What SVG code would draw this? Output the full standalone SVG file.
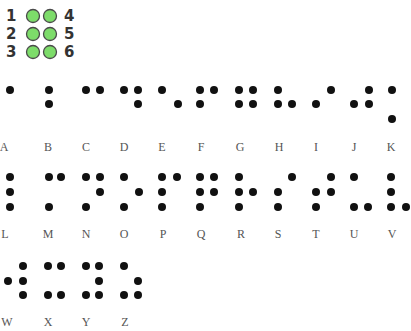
<svg xmlns="http://www.w3.org/2000/svg" width="411" height="331" viewBox="0 0 411 331">
<style>
.d{fill:#111}
.c{fill:#7ddc6a;stroke:#4a4a4a;stroke-width:1.3}
.n{font-family:"DejaVu Sans","Liberation Sans",sans-serif;font-weight:bold;font-size:15px;fill:#333}
.l{font-family:"Liberation Serif",serif;font-size:12px;fill:#555;text-anchor:middle}
</style>
<rect width="411" height="331" fill="#fff"/>
<g id="legend">
<text class="n" x="6" y="21">1</text>
<text class="n" x="6" y="39">2</text>
<text class="n" x="6" y="57">3</text>
<text class="n" x="64" y="21">4</text>
<text class="n" x="64" y="39">5</text>
<text class="n" x="64" y="57">6</text>
<circle class="c" cx="33" cy="16" r="6.5"/><circle class="c" cx="50" cy="16" r="6.5"/>
<circle class="c" cx="33" cy="34" r="6.5"/><circle class="c" cx="50" cy="34" r="6.5"/>
<circle class="c" cx="33" cy="52" r="6.5"/><circle class="c" cx="50" cy="52" r="6.5"/>
</g>
<g id="A"><circle class="d" cx="10" cy="90" r="4"/><text class="l" x="4" y="151">A</text></g>
<g id="B"><circle class="d" cx="49" cy="90" r="4"/><circle class="d" cx="49" cy="104" r="4"/><text class="l" x="48" y="151">B</text></g>
<g id="C"><circle class="d" cx="86" cy="90" r="4"/><circle class="d" cx="100" cy="90" r="4"/><text class="l" x="86" y="151">C</text></g>
<g id="D"><circle class="d" cx="124" cy="90" r="4"/><circle class="d" cx="138" cy="90" r="4"/><circle class="d" cx="138" cy="104" r="4"/><text class="l" x="124" y="151">D</text></g>
<g id="E"><circle class="d" cx="162" cy="90" r="4"/><circle class="d" cx="178" cy="104" r="4"/><text class="l" x="162" y="151">E</text></g>
<g id="F"><circle class="d" cx="200" cy="90" r="4"/><circle class="d" cx="214" cy="90" r="4"/><circle class="d" cx="200" cy="104" r="4"/><text class="l" x="201" y="151">F</text></g>
<g id="G"><circle class="d" cx="239" cy="90" r="4"/><circle class="d" cx="253" cy="90" r="4"/><circle class="d" cx="239" cy="104" r="4"/><circle class="d" cx="253" cy="104" r="4"/><text class="l" x="240" y="151">G</text></g>
<g id="H"><circle class="d" cx="278" cy="90" r="4"/><circle class="d" cx="278" cy="104" r="4"/><circle class="d" cx="292" cy="104" r="4"/><text class="l" x="279" y="151">H</text></g>
<g id="I"><circle class="d" cx="316" cy="104" r="4"/><circle class="d" cx="331" cy="90" r="4"/><text class="l" x="316" y="151">I</text></g>
<g id="J"><circle class="d" cx="354" cy="104" r="4"/><circle class="d" cx="369" cy="90" r="4"/><circle class="d" cx="369" cy="104" r="4"/><text class="l" x="354" y="151">J</text></g>
<g id="K"><circle class="d" cx="392" cy="90" r="4"/><circle class="d" cx="392" cy="119" r="4"/><text class="l" x="391" y="151">K</text></g>
<g id="L"><circle class="d" cx="10" cy="177" r="4"/><circle class="d" cx="10" cy="192" r="4"/><circle class="d" cx="10" cy="207" r="4"/><text class="l" x="5" y="238">L</text></g>
<g id="M"><circle class="d" cx="49" cy="177" r="4"/><circle class="d" cx="61" cy="177" r="4"/><circle class="d" cx="49" cy="207" r="4"/><text class="l" x="48" y="238">M</text></g>
<g id="N"><circle class="d" cx="86" cy="177" r="4"/><circle class="d" cx="100" cy="177" r="4"/><circle class="d" cx="100" cy="192" r="4"/><circle class="d" cx="86" cy="207" r="4"/><text class="l" x="86" y="238">N</text></g>
<g id="O"><circle class="d" cx="124" cy="177" r="4"/><circle class="d" cx="139" cy="192" r="4"/><circle class="d" cx="124" cy="207" r="4"/><text class="l" x="124" y="238">O</text></g>
<g id="P"><circle class="d" cx="162" cy="177" r="4"/><circle class="d" cx="177" cy="177" r="4"/><circle class="d" cx="162" cy="192" r="4"/><circle class="d" cx="162" cy="207" r="4"/><text class="l" x="163" y="238">P</text></g>
<g id="Q"><circle class="d" cx="200" cy="177" r="4"/><circle class="d" cx="214" cy="177" r="4"/><circle class="d" cx="200" cy="192" r="4"/><circle class="d" cx="214" cy="192" r="4"/><circle class="d" cx="200" cy="207" r="4"/><text class="l" x="201" y="238">Q</text></g>
<g id="R"><circle class="d" cx="239" cy="177" r="4"/><circle class="d" cx="239" cy="192" r="4"/><circle class="d" cx="253" cy="192" r="4"/><circle class="d" cx="239" cy="207" r="4"/><text class="l" x="241" y="238">R</text></g>
<g id="S"><circle class="d" cx="292" cy="177" r="4"/><circle class="d" cx="278" cy="192" r="4"/><circle class="d" cx="278" cy="207" r="4"/><text class="l" x="278" y="238">S</text></g>
<g id="T"><circle class="d" cx="331" cy="177" r="4"/><circle class="d" cx="316" cy="192" r="4"/><circle class="d" cx="331" cy="192" r="4"/><circle class="d" cx="316" cy="207" r="4"/><text class="l" x="316" y="238">T</text></g>
<g id="U"><circle class="d" cx="354" cy="177" r="4"/><circle class="d" cx="354" cy="207" r="4"/><circle class="d" cx="368" cy="207" r="4"/><text class="l" x="354" y="238">U</text></g>
<g id="V"><circle class="d" cx="391" cy="177" r="4"/><circle class="d" cx="391" cy="192" r="4"/><circle class="d" cx="391" cy="207" r="4"/><circle class="d" cx="406" cy="207" r="4"/><text class="l" x="392" y="238">V</text></g>
<g id="W"><circle class="d" cx="23" cy="266" r="4"/><circle class="d" cx="8" cy="281" r="4"/><circle class="d" cx="23" cy="281" r="4"/><circle class="d" cx="23" cy="295" r="4"/><text class="l" x="7" y="326">W</text></g>
<g id="X"><circle class="d" cx="48" cy="266" r="4"/><circle class="d" cx="61" cy="266" r="4"/><circle class="d" cx="48" cy="295" r="4"/><circle class="d" cx="61" cy="295" r="4"/><text class="l" x="48" y="326">X</text></g>
<g id="Y"><circle class="d" cx="86" cy="266" r="4"/><circle class="d" cx="99" cy="266" r="4"/><circle class="d" cx="99" cy="281" r="4"/><circle class="d" cx="86" cy="295" r="4"/><circle class="d" cx="99" cy="295" r="4"/><text class="l" x="86" y="326">Y</text></g>
<g id="Z"><circle class="d" cx="124" cy="266" r="4"/><circle class="d" cx="138" cy="281" r="4"/><circle class="d" cx="124" cy="295" r="4"/><circle class="d" cx="138" cy="295" r="4"/><text class="l" x="125" y="326">Z</text></g>
<g id="connectors"/>
</svg>
